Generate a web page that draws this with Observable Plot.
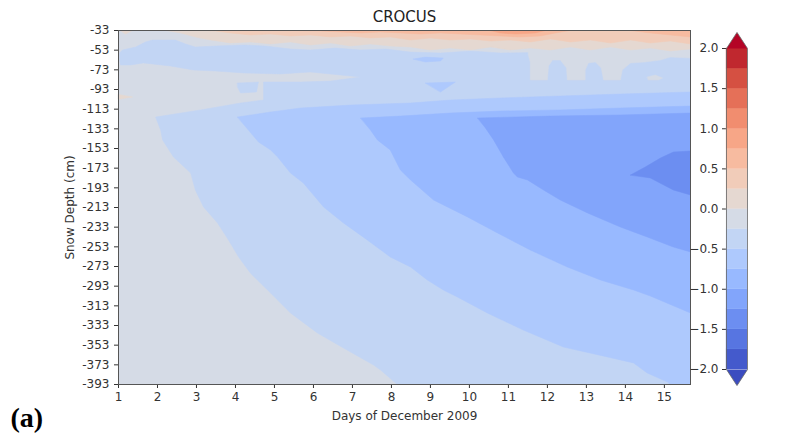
<!DOCTYPE html>
<html><head><meta charset="utf-8">
<script src="https://cdn.jsdelivr.net/npm/d3@7"></script>
<script src="https://cdn.jsdelivr.net/npm/@observablehq/plot@0.6"></script>
<style>
body{margin:0;background:#fff;}
#chart{position:relative;width:787px;height:434px;}
#chart svg{position:absolute;top:0;left:0;}
</style></head><body><div id="chart"></div>
<script>
// ---- axis values ----
const dayTicks = [1,2,3,4,5,6,7,8,9,10,11,12,13,14,15];
const depthTicks = [-33,-53,-73,-93,-113,-133,-153,-173,-193,-213,-233,-253,-273,-293,-313,-333,-353,-373,-393];
const dayRange = [1, 15.67];
const depthRange = [-393, -33];
const levels = [-2,-1.75,-1.5,-1.25,-1,-0.75,-0.5,-0.25,0,0.25,0.5,0.75,1,1.25,1.5,1.75,2];
const cbarTicks = [-2,-1.5,-1,-0.5,0,0.5,1,1.5,2];
const bandColors = ["rgb(59,76,192)","rgb(68,90,204)","rgb(87,117,225)","rgb(108,142,241)","rgb(130,165,251)",
  "rgb(152,185,255)","rgb(174,201,253)","rgb(194,213,244)","rgb(213,219,230)","rgb(229,216,209)",
  "rgb(241,204,185)","rgb(247,187,160)","rgb(247,166,135)","rgb(241,141,111)","rgb(229,112,88)",
  "rgb(213,80,66)","rgb(192,40,47)","rgb(180,4,38)"];

// ---- contour regions [day, depth] ----
const lightBlueZone = [[1.03,-55.9],[1.10,-52.8],[1.44,-49.8],[1.69,-44.7],[1.87,-42.7],[2.46,-42.7],[2.72,-46.7],
  [2.97,-49.8],[3.49,-48.8],[4.21,-47.7],[4.77,-48.8],[5.41,-51.8],[5.92,-52.8],[6.56,-50.8],[7.21,-52.8],[7.85,-51.8],
  [8.49,-54.9],[9.26,-55.9],[10.03,-53.8],[10.79,-55.9],[12.33,-54.9],[13.36,-54.9],[14.38,-55.9],[15.67,-54.9],
  [15.67,-393],[8.15,-393],[7.72,-378.3],[7.54,-373.2],[6.77,-355.9],[6.10,-340.6],[5.41,-320.3],[4.90,-299.9],
  [4.56,-286.7],[4.38,-279.6],[4.08,-263.3],[3.82,-246.0],[3.54,-228.8],[3.18,-212.5],[2.97,-195.2],[2.85,-177.9],
  [2.41,-161.6],[2.13,-144.3],[2.08,-134.2],[1.95,-121.0],[3.10,-113.8],[4.13,-106.7],[4.72,-103.7],[4.72,-85.4],
  [5.67,-85.4],[6.44,-84.4],[7.21,-80.3],[6.69,-78.3],[5.92,-75.2],[5.15,-77.2],[4.21,-76.2],[3.49,-74.2],
  [2.92,-73.2],[2.33,-69.1],[1.64,-66.0],[1.31,-68.1],[1.05,-68.1],[1.03,-63.0]];
const lightBlueBox = [[4.05,-86.4],[4.59,-85.4],[4.54,-95.5],[4.13,-96.6],[4.05,-90.5]];
const grayPillars = [[11.51,-47.7],[15.67,-47.7],[15.67,-61.0],[15.15,-60.0],[14.90,-63.0],[14.51,-65.0],[14.13,-66.0],
  [13.92,-73.2],[13.87,-83.3],[13.44,-83.3],[13.38,-71.1],[13.23,-65.0],[13.05,-66.0],[12.97,-73.2],[12.97,-83.3],
  [12.51,-83.3],[12.49,-71.1],[12.33,-63.0],[12.13,-63.0],[12.03,-69.1],[12.00,-83.3],[11.56,-83.3],[11.56,-65.0],[11.51,-57.9]];
const grayFleck = [[14.56,-80.3],[14.77,-78.3],[14.95,-81.3],[14.85,-83.3],[14.59,-83.3]];
const streakA = [[8.56,-62.0],[8.87,-60.0],[9.33,-61.0],[9.26,-64.0],[8.87,-65.0]];
const streakB = [[8.87,-86.4],[9.64,-85.4],[9.26,-95.5]];
const beigeSurface = [[2.21,-33],[15.67,-33],[15.67,-51.8],[15.15,-53.8],[14.64,-50.8],[14.13,-52.8],[13.62,-49.8],
  [13.10,-52.8],[12.59,-49.8],[12.08,-52.8],[11.56,-50.8],[11.05,-52.8],[10.54,-49.8],[10.03,-52.8],[9.51,-50.8],
  [9.00,-52.8],[8.49,-49.8],[7.97,-48.8],[7.46,-46.7],[6.95,-48.8],[6.44,-45.7],[5.92,-47.7],[5.41,-44.7],[4.90,-46.7],
  [4.38,-44.7],[3.87,-45.7],[3.36,-42.7],[2.97,-39.6],[2.59,-35.5]];
const beigeCorner = [[1.05,-33],[1.36,-33],[1.18,-36.6]];
const beigeFleck = [[1.0,-98.0],[1.36,-100.6],[1.0,-103.0]];
const salmonLight = [[3.23,-33],[15.67,-33],[15.67,-46.7],[15.15,-43.7],[14.64,-45.7],[14.13,-42.7],[13.62,-45.7],
  [13.10,-42.7],[12.59,-44.7],[12.08,-41.6],[11.56,-44.7],[11.05,-42.7],[10.54,-43.7],[10.03,-41.6],[9.51,-42.7],
  [9.00,-40.6],[8.49,-42.7],[7.97,-39.6],[7.46,-40.6],[6.95,-38.6],[6.44,-39.6],[5.92,-37.6],[5.41,-38.6],[4.90,-36.6],
  [4.38,-37.6],[3.87,-35.5],[3.49,-33.5]];
const salmonA = [[5.41,-33],[12.59,-33],[12.21,-35.5],[11.82,-38.6],[11.31,-39.6],[10.79,-38.6],[10.28,-37.6],
  [9.77,-36.6],[9.26,-35.5],[8.74,-36.6],[8.23,-35.5],[7.72,-34.5],[7.21,-35.5],[6.69,-34.5],[6.18,-33.5]];
const salmonB = [[14.13,-33],[15.67,-33],[15.67,-39.6],[15.15,-37.6],[14.64,-35.5]];
const orangePeak = [[10.54,-33],[11.95,-33],[11.69,-35.5],[11.18,-36.6],[10.79,-35.5]];
const midBlueZone = [[4.05,-121.0],[4.90,-115.9],[5.67,-111.8],[6.95,-108.8],[8.49,-106.7],[9.51,-103.7],[10.79,-101.6],
  [12.33,-99.6],[13.87,-97.6],[15.67,-95.5],[15.67,-393],[15.15,-393],[15.08,-390.5],[14.56,-381.3],[14.21,-371.1],
  [13.54,-365.0],[12.41,-354.9],[11.38,-337.6],[10.46,-320.3],[9.69,-304.0],[9.33,-296.9],[8.92,-286.7],[8.49,-273.5],
  [7.97,-263.3],[7.38,-246.0],[6.77,-228.8],[6.26,-212.5],[5.74,-188.1],[5.41,-177.9],[5.08,-161.6],[4.90,-154.5],
  [4.59,-146.4],[4.33,-134.2]];
const blueZone = [[7.21,-122.0],[8.23,-120.0],[9.51,-116.9],[10.79,-114.9],[12.33,-113.8],[13.87,-111.8],[15.67,-109.8],
  [15.67,-320.3],[14.64,-303.0],[14.21,-296.9],[13.36,-286.7],[12.51,-273.5],[11.56,-256.2],[10.72,-238.9],[9.95,-222.6],
  [9.08,-205.4],[8.49,-185.0],[8.23,-174.9],[7.97,-154.5],[7.64,-144.3],[7.46,-134.2]];
const deepBlueZone = [[10.21,-122.0],[12.08,-120.0],[13.87,-118.9],[15.67,-116.9],[15.67,-258.2],[15.23,-253.2],
  [14.56,-243.0],[13.87,-232.8],[13.03,-218.6],[12.33,-205.4],[11.90,-195.2],[11.49,-185.0],[11.23,-182.0],
  [11.13,-177.9],[10.87,-161.6],[10.62,-144.3],[10.41,-132.1]];
const coreZone = [[14.13,-180.0],[14.51,-171.8],[14.90,-162.7],[15.23,-156.6],[15.67,-155.5],[15.67,-200.3],
  [15.23,-195.2],[14.64,-183.0]];

const regions = [
  {band:-0.375, pts:lightBlueZone},{band:-0.375, pts:lightBlueBox},
  {band:-0.125, pts:grayPillars},{band:-0.125, pts:grayFleck},
  {band:-0.625, pts:streakA},{band:-0.625, pts:streakB},
  {band:0.125, pts:beigeSurface},{band:0.125, pts:beigeCorner},{band:0.125, pts:beigeFleck},
  {band:0.375, pts:salmonLight},{band:0.625, pts:salmonA},{band:0.625, pts:salmonB},{band:0.875, pts:orangePeak},
  {band:-0.625, pts:midBlueZone},{band:-0.875, pts:blueZone},{band:-1.125, pts:deepBlueZone},{band:-1.375, pts:coreZone}
];
const rows = regions.flatMap((r, i) => r.pts.map(([day, depth]) => ({id: i, band: r.band, day, depth})));
const colorScale = {type: "threshold", domain: levels, range: bandColors};
const font = {fontFamily: "DejaVu Sans", fontSize: "12px", color: "#333", background: "transparent", overflow: "visible"};

const main = Plot.plot({
  width: 787, height: 434, marginLeft: 118, marginRight: 97, marginTop: 30, marginBottom: 50,
  style: font,
  x: {domain: dayRange, ticks: dayTicks, tickSize: 4, tickPadding: 4, label: null, tickFormat: d => String(d)},
  y: {domain: depthRange, ticks: depthTicks, tickSize: 4, tickPadding: 5, label: null, tickFormat: d => String(d)},
  color: colorScale,
  marks: [
    Plot.rect([{band: -0.125}], {x1: () => dayRange[0], x2: () => dayRange[1], y1: () => depthRange[0], y2: () => depthRange[1], fill: "band"}),
    Plot.line(rows, {x: "day", y: "depth", z: "id", fill: "band", stroke: "band", strokeWidth: 0.5, curve: "linear-closed"}),
    Plot.frame({stroke: "#555", strokeWidth: 1}),
    Plot.text(["CROCUS"], {frameAnchor: "top", dy: -13, fontSize: 15, textAnchor: "middle", lineAnchor: "middle", fill: "#222"}),
    Plot.text(["Days of December 2009"], {frameAnchor: "bottom", dy: 32, textAnchor: "middle", lineAnchor: "middle", fill: "#333"}),
    Plot.text(["Snow Depth (cm)"], {frameAnchor: "left", dx: -48, rotate: -90, textAnchor: "middle", lineAnchor: "middle", fill: "#333"}),
    Plot.text(["(a)"], {frameAnchor: "bottom-left", dx: -108, dy: 34, textAnchor: "start", lineAnchor: "middle", fontSize: 28, fontWeight: "bold", fontFamily: "Liberation Serif", fill: "#000"})
  ]
});

const bands = levels.slice(0, -1).map((lo, i) => ({lo, hi: levels[i + 1], mid: (lo + levels[i + 1]) / 2}));
const arrowRows = [
  {id: 0, v: 2.1, x: 0, y: 2}, {id: 0, v: 2.1, x: 1, y: 2}, {id: 0, v: 2.1, x: 0.5, y: 2.2},
  {id: 1, v: -2.1, x: 0, y: -2}, {id: 1, v: -2.1, x: 1, y: -2}, {id: 1, v: -2.1, x: 0.5, y: -2.2}
];
const outline = [{x:0,y:2},{x:0.5,y:2.2},{x:1,y:2},{x:1,y:-2},{x:0.5,y:-2.2},{x:0,y:-2},{x:0,y:2}];

const cbar = Plot.plot({
  width: 87, height: 434, marginLeft: 26, marginRight: 40, marginTop: 48, marginBottom: 65,
  style: font,
  x: {domain: [0, 1], axis: null},
  y: {domain: [-2, 2], ticks: cbarTicks, anchor: "right", tickSize: 4, tickPadding: 4, label: null,
      tickFormat: d => d.toFixed(1).replace("-", "\u2212")},
  color: colorScale,
  marks: [
    Plot.rect(bands, {x1: () => 0, x2: () => 1, y1: "lo", y2: "hi", fill: "mid", stroke: "mid", strokeWidth: 0.3}),
    Plot.line(arrowRows, {x: "x", y: "y", z: "id", fill: "v", stroke: "none", curve: "linear-closed"}),
    Plot.line(outline, {x: "x", y: "y", stroke: "#666", strokeWidth: 0.8})
  ]
});
cbar.style.left = "700px";
const box = document.getElementById("chart");
box.appendChild(main);
box.appendChild(cbar);
</script></body></html>
